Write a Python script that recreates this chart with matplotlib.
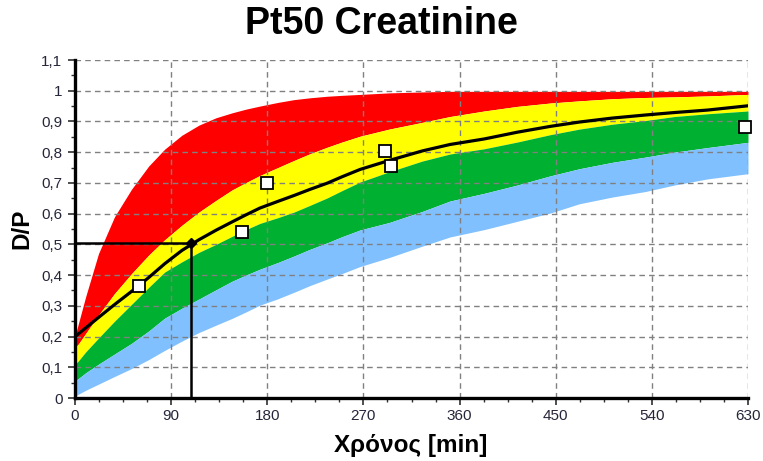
import matplotlib
matplotlib.use("Agg")
import matplotlib.pyplot as plt
from matplotlib.ticker import MultipleLocator, FuncFormatter

plt.rcParams['font.family'] = ['Liberation Sans', 'DejaVu Sans']

# Time grid (min) for the reference bands and the model curve
time_min = [0, 3, 10, 22, 37, 53, 69, 84, 100, 116, 132, 147, 160, 173, 190, 205,
            220, 236, 250, 267, 294, 325, 351, 383, 414, 445, 472, 503, 534, 561, 592, 630]

# Band boundaries (D/P), top to bottom
red_top = [0.20, 0.24, 0.33, 0.47, 0.59, 0.68, 0.755, 0.81, 0.855, 0.888, 0.912, 0.928,
           0.94, 0.95, 0.962, 0.971, 0.977, 0.982, 0.985, 0.988, 0.993, 0.996, 0.998,
           0.998, 0.998, 0.998, 0.998, 0.998, 0.998, 0.998, 0.998, 0.998]
yellow_top = [0.165, 0.175, 0.21, 0.27, 0.34, 0.405, 0.465, 0.515, 0.562, 0.605, 0.643, 0.677,
              0.701, 0.724, 0.75, 0.773, 0.795, 0.816, 0.833, 0.852, 0.875, 0.897, 0.916,
              0.934, 0.949, 0.96, 0.967, 0.974, 0.978, 0.98, 0.983, 0.988]
green_top = [0.11, 0.12, 0.15, 0.195, 0.25, 0.305, 0.36, 0.41, 0.443, 0.474, 0.50, 0.526,
             0.548, 0.568, 0.587, 0.605, 0.627, 0.651, 0.675, 0.703, 0.736, 0.771, 0.794,
             0.811, 0.833, 0.857, 0.875, 0.891, 0.903, 0.916, 0.925, 0.934]
blue_top = [0.055, 0.063, 0.082, 0.11, 0.143, 0.178, 0.218, 0.26, 0.292, 0.322, 0.352, 0.38,
            0.40, 0.419, 0.441, 0.462, 0.484, 0.505, 0.525, 0.547, 0.571, 0.607, 0.641,
            0.666, 0.693, 0.723, 0.746, 0.767, 0.784, 0.80, 0.815, 0.832]
blue_bottom = [0.005, 0.012, 0.025, 0.045, 0.07, 0.096, 0.125, 0.155, 0.185, 0.213, 0.237,
               0.259, 0.28, 0.302, 0.323, 0.344, 0.366, 0.387, 0.405, 0.428, 0.457, 0.494,
               0.524, 0.548, 0.575, 0.602, 0.632, 0.654, 0.672, 0.693, 0.713, 0.73]

# Patient model curve
model_dp = [0.20, 0.208, 0.228, 0.262, 0.304, 0.347, 0.392, 0.437, 0.48, 0.515, 0.546, 0.573,
            0.596, 0.618, 0.64, 0.659, 0.679, 0.699, 0.72, 0.744, 0.773, 0.804, 0.825,
            0.843, 0.865, 0.884, 0.898, 0.911, 0.921, 0.929, 0.937, 0.951]

# Measured samples
sample_time = [60, 156, 180, 290, 296, 627]
sample_dp = [0.365, 0.54, 0.70, 0.805, 0.755, 0.882]

# D/P = 0.5 reading on the model curve
half_time = 109
half_dp = 0.505

x_ticks = [0, 90, 180, 270, 360, 450, 540, 630]

fig = plt.figure(figsize=(7.63, 4.61), dpi=100)
ax = fig.add_axes([75 / 763, 63 / 461, 673 / 763, 338 / 461])

ax.fill_between(time_min, yellow_top, red_top, color='#FF0000', lw=0, zorder=1)
ax.fill_between(time_min, green_top, yellow_top, color='#FFFF00', lw=0, zorder=1)
ax.fill_between(time_min, blue_top, green_top, color='#00B030', lw=0, zorder=1)
ax.fill_between(time_min, blue_bottom, blue_top, color='#80C0FF', lw=0, zorder=1)

ax.set_xlim(0, 630)
ax.set_ylim(0, 1.1)
ax.set_xticks(x_ticks)
ax.yaxis.set_major_locator(MultipleLocator(0.1))
ax.xaxis.set_minor_locator(MultipleLocator(22.5))
ax.yaxis.set_minor_locator(MultipleLocator(0.05))
ax.yaxis.set_major_formatter(FuncFormatter(lambda v, p: f"{v:.1f}".rstrip('0').rstrip('.').replace('.', ',')))

ax.grid(True, which='major', color='#808080', linestyle=(0, (4, 3)), linewidth=1.0, zorder=2)
ax.set_axisbelow(False)
for gl in ax.get_xgridlines() + ax.get_ygridlines():
    gl.set_zorder(2)

for s in ['top', 'right']:
    ax.spines[s].set_visible(False)
for s in ['left', 'bottom']:
    ax.spines[s].set_linewidth(2.4)
    ax.spines[s].set_zorder(6)

ax.tick_params(which='major', direction='out', length=5, width=1.2, color='#303030',
               labelsize=11, labelcolor='#26263a')
ax.tick_params(axis='y', which='major', pad=4)
ax.tick_params(axis='x', which='major', pad=3)
ax.tick_params(which='minor', direction='out', length=3, width=1.0, color='#303030')

ax.plot(time_min, model_dp, color='black', lw=2.3, zorder=4)

ax.plot([0, half_time], [half_dp, half_dp], color='black', lw=1.8, zorder=4, clip_on=False)
ax.plot([half_time, half_time], [0, half_dp], color='black', lw=1.8, zorder=4, clip_on=False)
ax.plot([half_time], [half_dp], marker='D', color='black', markersize=5, zorder=5)

ax.plot(sample_time, sample_dp, linestyle='none', marker='s', markersize=9,
        markerfacecolor='white', markeredgecolor='black', markeredgewidth=1.3,
        zorder=5, clip_on=False)

fig.text(381 / 763, 1 - 24 / 461, 'Pt50 Creatinine', ha='center', va='center',
         fontsize=27, fontweight='bold')
fig.text(411 / 763, 1 - 445 / 461, 'Χρόνος [min]', ha='center', va='center',
         fontsize=17.5, fontweight='bold')
fig.text(22 / 763, 1 - 229 / 461, 'D/P', ha='center', va='center', rotation=90,
         fontsize=17.5, fontweight='bold')

fig.savefig('out.png', dpi=100)
